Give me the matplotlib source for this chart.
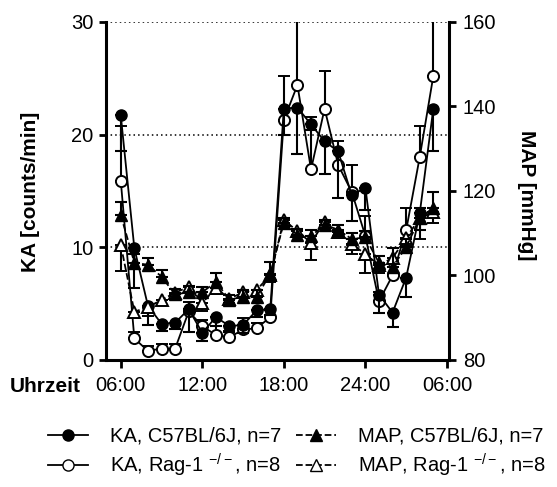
import matplotlib.pyplot as plt
from matplotlib.lines import Line2D
import numpy as np

plt.rcParams['font.family'] = ['Liberation Sans', 'DejaVu Sans']
plt.rcParams['mathtext.fontset'] = 'custom'
plt.rcParams['mathtext.rm'] = 'Liberation Sans'
plt.rcParams['mathtext.it'] = 'Liberation Sans'

# hourly values, 06:00 .. 05:00 next day (hour 6..29)
hours = list(range(6, 30))

ka_c57 = [21.7, 9.9, 4.8, 3.2, 3.3, 4.5, 2.4, 3.8, 3.0, 3.1, 4.4, 4.5,
          22.3, 22.4, 20.9, 19.4, 18.5, 14.6, 15.3, 5.8, 4.2, 7.3, 13.0, 22.3]
ka_c57_err = [3.2, 3.5, 1.7, 0.6, 0.6, 2.0, 0.7, 0.8, 0.5, 0.7, 0.6, 0.5,
              2.3, 4.1, 0.5, 2.9, 4.1, 2.3, 2.0, 1.6, 1.3, 1.7, 1.5, 3.8]

ka_rag = [15.9, 1.9, 0.8, 1.0, 1.0, 4.3, 3.0, 2.2, 2.0, 2.7, 2.8, 3.8,
          21.3, 24.4, 16.9, 22.3, 17.3, 14.9, 11.0, 5.2, 7.5, 11.5, 18.0, 25.2]
ka_rag_err = [4.9, 0.6, 0.4, 0.4, 0.4, 0.8, 0.5, 0.8, 0.6, 1.0, 0.5, 0.6,
              3.9, 6.0, 4.7, 3.3, 2.1, 2.4, 1.8, 0.8, 1.3, 2.0, 2.8, 5.5]

map_c57 = [114.3, 103.0, 102.5, 99.7, 95.5, 96.0, 96.0, 98.5, 94.2, 95.0, 95.0, 100.3,
           112.5, 109.5, 109.3, 112.0, 110.8, 108.6, 109.0, 103.0, 102.0, 106.7, 113.5, 116.0]
map_c57_err = [3.1, 2.0, 1.5, 1.5, 1.3, 1.5, 1.3, 2.0, 1.2, 1.5, 1.5, 2.9,
               1.0, 1.5, 1.5, 1.2, 1.2, 1.5, 1.5, 1.5, 4.5, 2.0, 2.5, 3.8]

map_rag = [107.2, 91.4, 92.5, 94.2, 95.9, 97.3, 93.5, 97.0, 94.5, 96.0, 96.6, 100.0,
           113.1, 110.5, 107.7, 112.7, 110.3, 107.5, 105.0, 102.5, 104.1, 108.9, 113.5, 115.0]
map_rag_err = [6.2, 1.5, 2.0, 1.3, 1.3, 1.3, 2.0, 1.5, 1.0, 1.3, 1.3, 1.5,
               1.5, 1.5, 4.0, 1.3, 1.5, 2.5, 4.5, 2.0, 2.0, 2.0, 5.0, 2.5]

xticks = [6, 12, 18, 24, 30]
xticklabels = ['06:00', '12:00', '18:00', '24:00', '06:00']

zeros = np.zeros(len(hours))

fig = plt.figure(figsize=(5.57, 4.87), dpi=100)
ax = fig.add_axes([0.190, 0.261, 0.616, 0.694])
ax2 = ax.twinx()

eb = dict(color='k', lw=1.3, ms=8, elinewidth=1.5, capsize=4.5, capthick=1.5)
ax.errorbar(hours, ka_c57, yerr=[ka_c57_err, zeros], fmt='-o', mfc='k', mec='k', zorder=4, **eb)
ax.errorbar(hours, ka_rag, yerr=[zeros, ka_rag_err], fmt='-o', mfc='white', mec='k', mew=1.4, zorder=3, **eb)
ax2.errorbar(hours, map_c57, yerr=[zeros, map_c57_err], fmt='--^', mfc='k', mec='k', zorder=4, **eb)
ax2.errorbar(hours, map_rag, yerr=[map_rag_err, zeros], fmt='--^', mfc='white', mec='k', mew=1.4, zorder=3, **eb)

ax.set_xlim(4.9, 30.15)
ax.set_ylim(0, 30)
ax2.set_ylim(80, 160)
ax.set_xticks(xticks)
ax.set_xticklabels(xticklabels)
ax.set_yticks([0, 10, 20, 30])
ax2.set_yticks([80, 100, 120, 140, 160])

ax.yaxis.grid(True, linestyle=(0, (1, 2)), color='k', lw=1.1)
ax.set_axisbelow(True)

for a in (ax, ax2):
    a.spines['top'].set_visible(False)
ax.spines['right'].set_visible(False)
ax2.spines['left'].set_visible(False)
ax2.spines['bottom'].set_visible(False)
for s in ('left', 'bottom'):
    ax.spines[s].set_linewidth(2.2)
ax2.spines['right'].set_linewidth(2.2)

ax.tick_params(axis='x', direction='out', length=5.5, width=2, labelsize=14.5, pad=6)
ax.tick_params(axis='y', direction='out', length=5, width=2, labelsize=14.5, pad=4)
ax2.tick_params(axis='y', direction='out', length=5, width=2, labelsize=14.5, pad=5)

fig.text(0.054, 0.607, 'KA [counts/min]', rotation=90, ha='center', va='center',
         fontsize=15, fontweight='bold')
fig.text(0.946, 0.6, 'MAP [mmHg]', rotation=270, ha='center', va='center',
         fontsize=15, fontweight='bold')
fig.text(0.018, 0.206, 'Uhrzeit', ha='left', va='center', fontsize=15, fontweight='bold')

handles = [
    Line2D([], [], color='k', lw=1.3, marker='o', ms=8, mfc='k', mec='k'),
    Line2D([], [], color='k', lw=1.3, marker='o', ms=8, mfc='white', mec='k'),
    Line2D([], [], color='k', lw=1.3, ls='--', marker='^', ms=8, mfc='k', mec='k'),
    Line2D([], [], color='k', lw=1.3, ls='--', marker='^', ms=8, mfc='white', mec='k'),
]
labels = ['KA, C57BL/6J, n=7', r'KA, Rag-1 $^{-/-}$, n=8',
          'MAP, C57BL/6J, n=7', r'MAP, Rag-1 $^{-/-}$, n=8']
fig.legend(handles, labels, loc='upper left', bbox_to_anchor=(0.086, 0.124),
           ncol=2, frameon=False, fontsize=14.5, handlelength=2.0, handletextpad=1.1,
           columnspacing=0.7, labelspacing=0.3, borderpad=0, borderaxespad=0)

fig.savefig('out.png', dpi=100)
